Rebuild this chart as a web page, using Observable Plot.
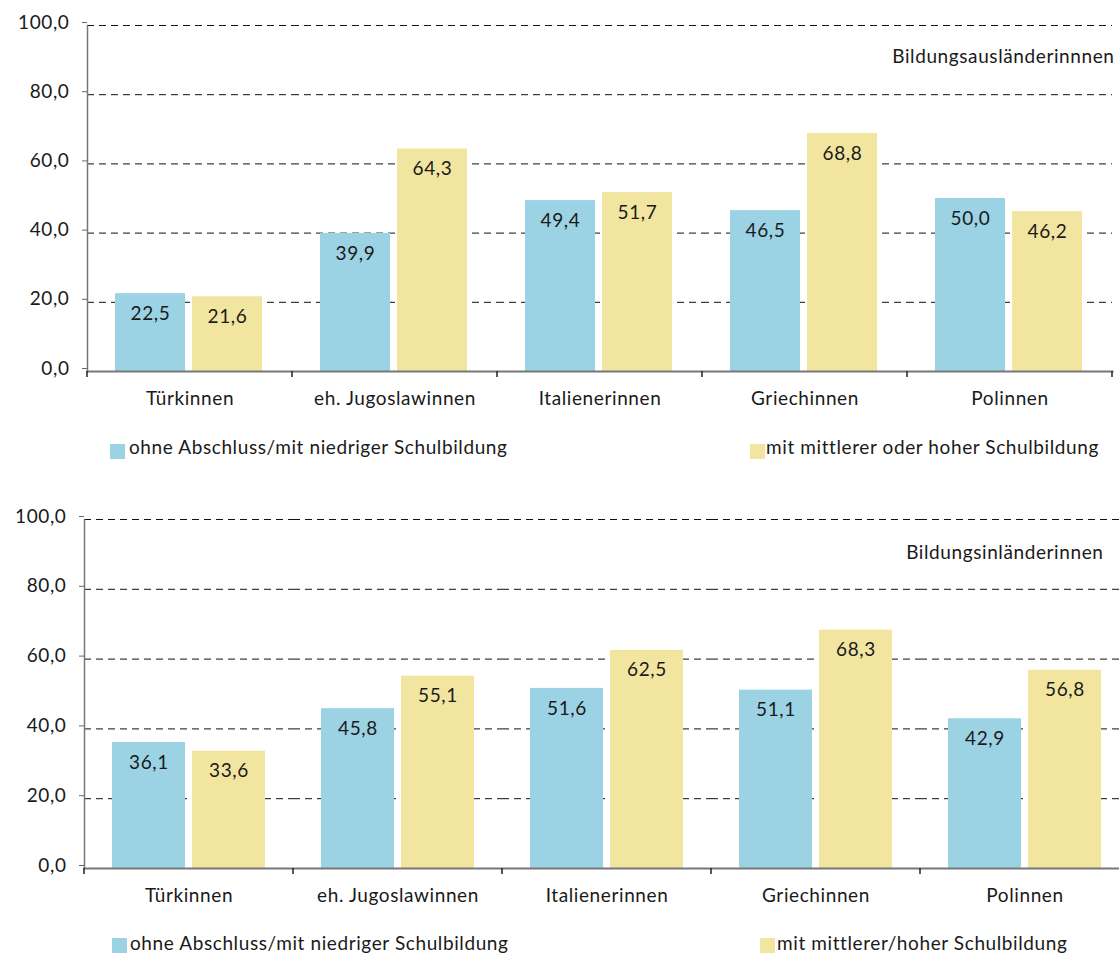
<!DOCTYPE html>
<html>
<head>
<meta charset="utf-8">
<script src="https://cdn.jsdelivr.net/npm/d3@7"></script>
<script src="https://cdn.jsdelivr.net/npm/@observablehq/plot@0.6"></script>
<style>
  html, body { margin: 0; padding: 0; background: #fff; overflow: hidden; }
  #wrap { position: relative; width: 1119px; height: 953px; overflow: hidden; font-family: Lato, sans-serif; color: #1a1a1a; }
  .chart { position: absolute; left: 0; max-width: none !important; }
  .sw { position: absolute; width: 15px; height: 15px; }
  .lt { position: absolute; font-size: 19px; line-height: 20px; white-space: nowrap; letter-spacing: 0.6px; }
</style>
</head>
<body>
<div id="wrap"></div>
<script>
const categories = ["Türkinnen", "eh. Jugoslawinnen", "Italienerinnen", "Griechinnen", "Polinnen"];
const seriesTop = ["ohne Abschluss/mit niedriger Schulbildung", "mit mittlerer oder hoher Schulbildung"];
const seriesBottom = ["ohne Abschluss/mit niedriger Schulbildung", "mit mittlerer/hoher Schulbildung"];
const auslaenderNiedrig = [22.5, 39.9, 49.4, 46.5, 50.0];
const auslaenderHoch = [21.6, 64.3, 51.7, 68.8, 46.2];
const inlaenderNiedrig = [36.1, 45.8, 51.6, 51.1, 42.9];
const inlaenderHoch = [33.6, 55.1, 62.5, 68.3, 56.8];
const yTicks = [0, 20, 40, 60, 80, 100];
const titleTop = "Bildungsausländerinnnen";
const titleBottom = "Bildungsinländerinnen";
const colors = ["#9bd3e5", "#f2e5a0"];

const fmt = v => d3.format(".1f")(v).replace(".", ",");

function rowsOf(series, a, b) {
  const rows = [];
  categories.forEach((c, i) => {
    rows.push({cat: c, series: series[0], value: a[i]});
    rows.push({cat: c, series: series[1], value: b[i]});
  });
  return rows;
}

function makeChart(o) {
  const rows = rowsOf(o.series, o.a, o.b);
  const plot = Plot.plot({
    width: o.width, height: o.height,
    marginLeft: o.marginLeft, marginRight: o.marginRight,
    marginTop: o.marginTop, marginBottom: o.marginBottom,
    style: {fontFamily: "Lato, sans-serif", fontSize: "19px", color: "#1a1a1a", background: "transparent", overflow: "visible", letterSpacing: "0.6px"},
    fx: {domain: categories, padding: 0, label: null, axis: null},
    x: {domain: o.series, paddingInner: o.pInner, paddingOuter: o.pOuter, align: o.align, axis: null},
    y: {domain: [0, 100], axis: null},
    color: {domain: o.series, range: colors},
    marks: [
      Plot.ruleY(yTicks.slice(1), {stroke: "#111", strokeWidth: 1, strokeDasharray: "7,5"}),
      Plot.barY(rows, {fx: "cat", x: "series", y: "value", fill: "series"}),
      Plot.text(rows, {fx: "cat", x: "series", y: "value", text: d => fmt(d.value), dy: 20, lineAnchor: "middle", fill: "#1a1a1a", fontSize: 19}),
      Plot.axisY(yTicks, {tickFormat: fmt, tickSize: 5, tickPadding: 13, dy: -3, stroke: "#666", fontSize: 19, label: null, facetAnchor: "left"}),
      Plot.frame({anchor: "left", facet: "super", stroke: "#777", strokeWidth: 1.5}),
      Plot.frame({anchor: "bottom", facet: "super", stroke: "#777", strokeWidth: 2}),
      Plot.axisFx({anchor: "bottom", tickSize: 0, tickPadding: 20, fontSize: 19, label: null}),
      Plot.text([o.title], {facet: "super", frameAnchor: "top-right", textAnchor: "end", lineAnchor: "middle", dx: o.titleDx, dy: o.titleDy, fontSize: 19, fill: "#1a1a1a"})
    ]
  });
  const fx = plot.scale("fx");
  const y = plot.scale("y");
  const y0 = y.apply(0);
  const svg = d3.select(plot.tagName.toLowerCase() === "svg" ? plot : plot.querySelector("svg"));
  const edges = categories.map(c => fx.apply(c)).concat([fx.apply(categories[categories.length - 1]) + fx.bandwidth]);
  svg.append("g").selectAll("line").data(edges).join("line")
    .attr("x1", d => d).attr("x2", d => d)
    .attr("y1", y0).attr("y2", y0 + 6)
    .attr("stroke", "#222").attr("stroke-width", 1.5);
  plot.classList.add("chart");
  plot.style.top = o.top + "px";
  plot.style.maxWidth = "none";
  return plot;
}

const wrap = document.getElementById("wrap");

wrap.appendChild(makeChart({
  series: seriesTop, a: auslaenderNiedrig, b: auslaenderHoch,
  width: 1119, height: 420, marginLeft: 85, marginRight: 5, marginTop: 25, marginBottom: 49,
  pInner: 0.09, pOuter: 0.365, align: 0.475,
  top: 0, title: titleTop, titleDx: 2, titleDy: 31
}));

wrap.appendChild(makeChart({
  series: seriesBottom, a: inlaenderNiedrig, b: inlaenderHoch,
  width: 1135, height: 427, marginLeft: 83, marginRight: 5, marginTop: 29, marginBottom: 49,
  pInner: 0.0875, pOuter: 0.35, align: 0.5,
  top: 490, title: titleBottom, titleDx: -26, titleDy: 33
}));

function legendItem(color, label, sx, sy, tx, ty) {
  const s = document.createElement("div");
  s.className = "sw"; s.style.background = color; s.style.left = sx + "px"; s.style.top = sy + "px";
  const t = document.createElement("div");
  t.className = "lt"; t.textContent = label; t.style.left = tx + "px"; t.style.top = ty + "px";
  wrap.appendChild(s); wrap.appendChild(t);
}
legendItem(colors[0], seriesTop[0], 110, 444, 129, 437);
legendItem(colors[1], seriesTop[1], 750, 444, 766, 437);
legendItem(colors[0], seriesBottom[0], 112, 938, 130, 933);
legendItem(colors[1], seriesBottom[1], 760, 938, 777, 933);
</script>
</body>
</html>
